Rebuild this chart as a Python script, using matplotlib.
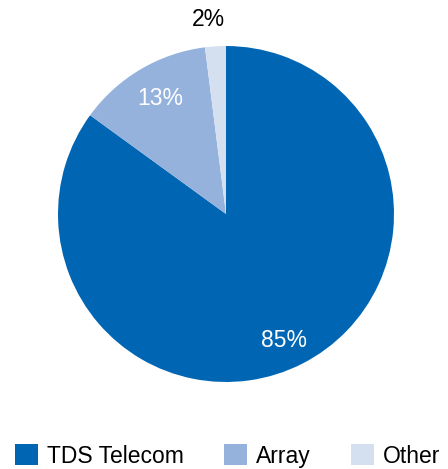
import numpy as np
import matplotlib.pyplot as plt
from matplotlib.patches import Patch

plt.rcParams['font.family'] = ['Liberation Sans', 'DejaVu Sans']

labels = ["TDS Telecom", "Array", "Other"]
shares = [85, 13, 2]
colors = ["#0066b3", "#94b2dc", "#d4dff0"]
pct_colors = ["white", "white", "black"]
# label distance from centre and angular nudge (degrees) per slice
pct_dist = [0.83, 0.79, 1.16]
pct_nudge = [-2.5, -1, 1.5]

fig = plt.figure(figsize=(4.48, 4.69), dpi=100)
ax = fig.add_axes([58 / 448, 1 - 382 / 469, 336 / 448, 336 / 469])

wedges, texts, autotexts = ax.pie(shares, colors=colors, startangle=90, counterclock=False,
                                  radius=1, autopct="%d%%", pctdistance=0.8,
                                  wedgeprops=dict(linewidth=0),
                                  textprops=dict(fontsize=16.5))
for w, t, c, d, n in zip(wedges, autotexts, pct_colors, pct_dist, pct_nudge):
    t.set_color(c)
    ang = np.deg2rad((w.theta1 + w.theta2) / 2 + n)
    t.set_position((d * np.cos(ang), d * np.sin(ang)))

ax.set_xlim(-1, 1)
ax.set_ylim(-1, 1)
ax.set_aspect("equal")
ax.axis("off")

handles = [Patch(facecolor=c, edgecolor="none") for c in colors]
fig.legend(handles, labels, loc="center left", bbox_to_anchor=(15 / 448, 1 - 456 / 469),
           ncol=3, frameon=False, fontsize=16.5, handlelength=1.0, handleheight=1.0,
           handletextpad=0.4, columnspacing=1.75, borderpad=0, borderaxespad=0)

fig.savefig("out.png", dpi=100)
